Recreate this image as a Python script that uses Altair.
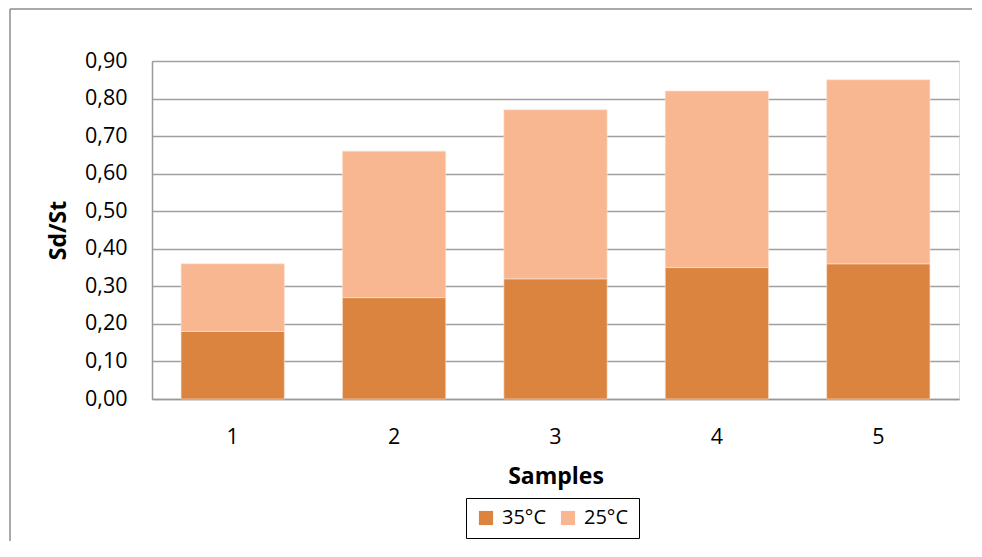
import altair as alt
import pandas as pd

samples = ["1", "2", "3", "4", "5"]
series = ["35°C", "25°C"]
v35 = [0.18, 0.27, 0.32, 0.35, 0.36]
v25 = [0.18, 0.39, 0.45, 0.47, 0.49]
colors = ["#DB843F", "#F8B691"]
y_ticks = [0.0, 0.1, 0.2, 0.3, 0.4, 0.5, 0.6, 0.7, 0.8, 0.9]

rows = []
for s, a, b in zip(samples, v35, v25):
    rows.append({"Sample": s, "Series": series[0], "ord": 0, "value": a})
    rows.append({"Sample": s, "Series": series[1], "ord": 1, "value": b})
df = pd.DataFrame(rows)

FONT = "Open Sans"
LBL = 21.5
TTL = 23

frame_df = pd.DataFrame({"x1": [-142], "x2": [840], "y1": [-52], "y2": [560]})
frame_top = alt.Chart(frame_df).mark_rule(stroke="#8c8c8c", strokeWidth=1.5).encode(
    x=alt.value(-142), x2=alt.value(820), y=alt.value(-52)
)
frame_left = alt.Chart(frame_df).mark_rule(stroke="#8c8c8c", strokeWidth=1.5).encode(
    x=alt.value(-142), y=alt.value(-52), y2=alt.value(480)
)

bars = alt.Chart(df).mark_bar(stroke="#fbe3d3", strokeWidth=0.6).encode(
    x=alt.X(
        "Sample:N",
        sort=samples,
        scale=alt.Scale(paddingInner=0.36, paddingOuter=0.18),
        axis=alt.Axis(
            title="Samples",
            labelAngle=0,
            labelFontSize=LBL,
            labelFont=FONT,
            labelColor="#000000",
            labelBaseline="alphabetic",
            labelPadding=44,
            ticks=False,
            tickSize=0,
            domainColor="#999999",
            domainWidth=1.5,
            grid=False,
            titleFont=FONT,
            titleFontSize=TTL,
            titleFontWeight="bold",
            titleColor="#000000",
            titleBaseline="alphabetic",
            titleY=84,
        ),
    ),
    y=alt.Y(
        "value:Q",
        stack="zero",
        scale=alt.Scale(domain=[0, 0.9], nice=False),
        axis=alt.Axis(
            title="Sd/St",
            values=y_ticks,
            labelExpr="replace(format(datum.value, '.2f'), '.', ',')",
            labelFontSize=LBL,
            labelFont=FONT,
            labelColor="#000000",
            labelPadding=25,
            ticks=False,
            tickSize=0,
            domainColor="#999999",
            domainWidth=1.5,
            grid=True,
            gridColor="#a0a0a0",
            gridWidth=1.5,
            titleFont=FONT,
            titleFontSize=TTL,
            titleFontWeight="bold",
            titleColor="#000000",
            titleAngle=270,
            titleAlign="center",
            titleBaseline="middle",
            titleX=-94,
            titleY=169,
        ),
    ),
    color=alt.Color(
        "Series:N",
        sort=series,
        scale=alt.Scale(domain=series, range=colors),
        legend=alt.Legend(
            title=None,
            orient="none",
            legendX=314,
            legendY=437,
            direction="horizontal",
            strokeColor="#000000",
            padding=10,
            symbolType="square",
            symbolSize=200,
            symbolStrokeWidth=0,
            labelFont=FONT,
            labelFontSize=20,
            labelColor="#000000",
            labelOffset=6,
            columnPadding=11,
        ),
    ),
    order=alt.Order("ord:Q", sort="ascending"),
)

chart = alt.layer(frame_top, frame_left, bars).properties(
    width=807,
    height=338,
    padding={"left": 144, "top": 53, "right": 15, "bottom": 150},
    autosize=alt.AutoSizeParams(type="none"),
).configure_view(stroke=None).configure(background="white")

chart.save("out.html", embed_options={"renderer": "svg", "actions": False})
